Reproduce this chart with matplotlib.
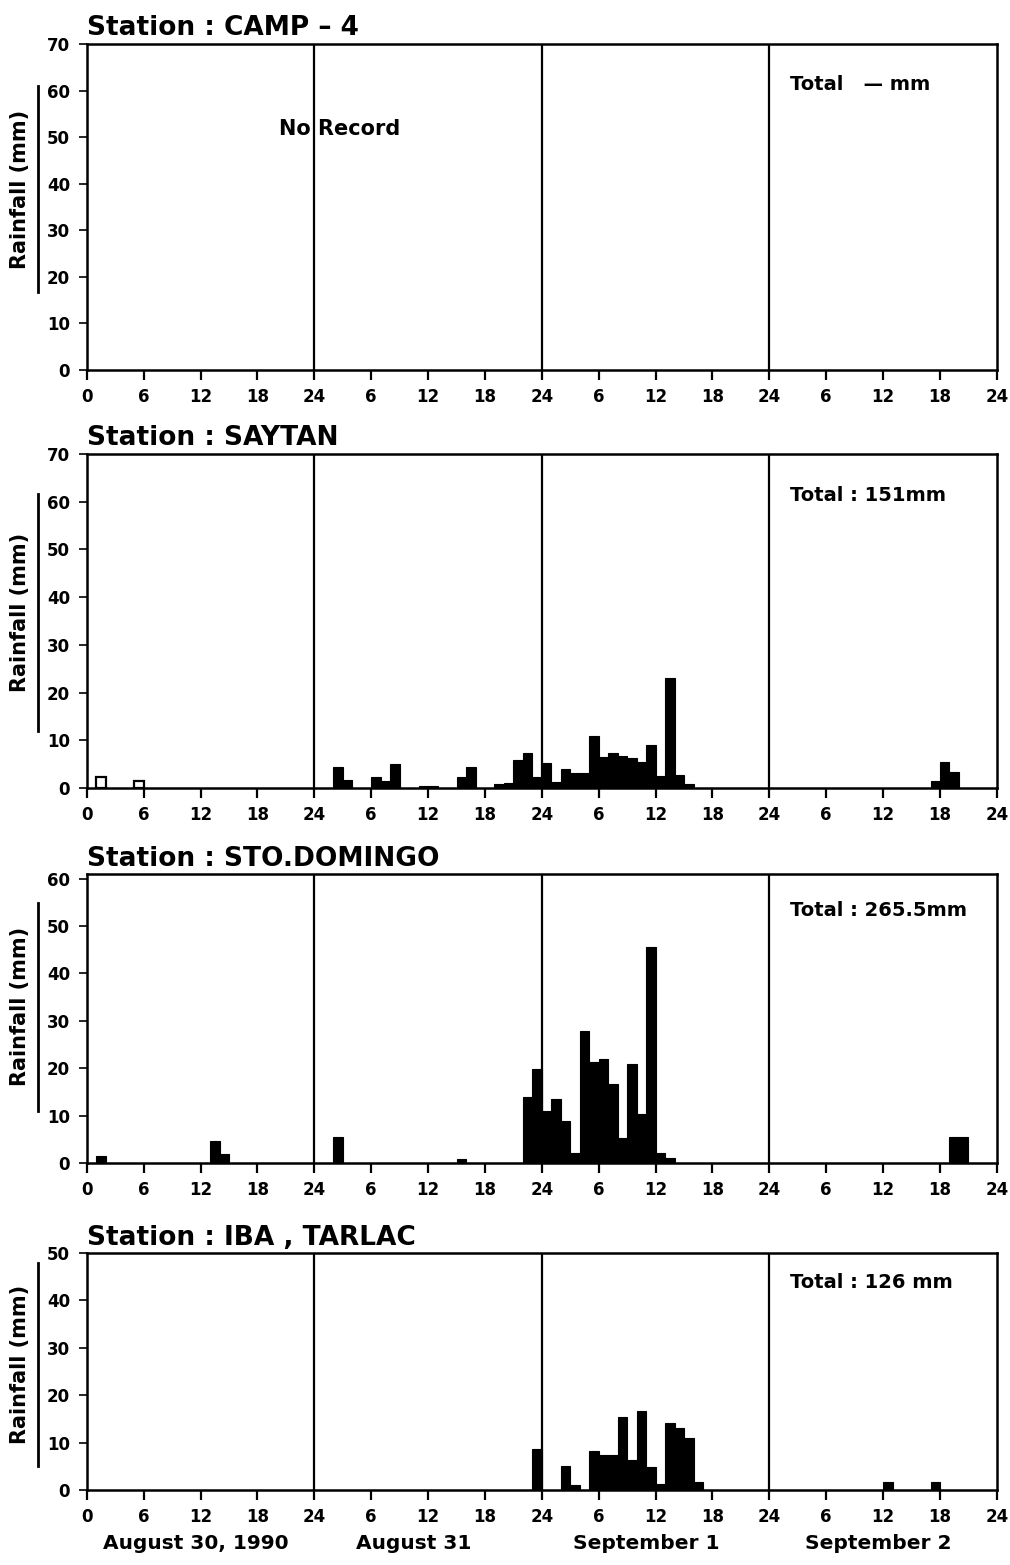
import matplotlib
matplotlib.use("Agg")
import matplotlib.pyplot as plt

plt.rcParams["font.family"] = ["DejaVu Sans"]
plt.rcParams["font.weight"] = "bold"

# hourly rainfall, hour counted from 0:00 of August 30, 1990 (4 days = 96 h)
stations = ["CAMP – 4", "SAYTAN", "STO.DOMINGO", "IBA , TARLAC"]
totals = ["Total   — mm", "Total : 151mm", "Total : 265.5mm", "Total : 126 mm"]
y_tops = [70, 70, 61, 50]

camp4_hours = []
camp4_rain = []

saytan_hours = [26, 27, 30, 31, 32, 35, 36, 39, 40, 43, 44, 45, 46, 47,
                48, 49, 50, 51, 52, 53, 54, 55, 56, 57, 58, 59, 60, 61, 62, 63,
                89, 90, 91]
saytan_rain = [4.3, 1.6, 2.3, 1.4, 5.0, 0.5, 0.5, 2.3, 4.3, 0.9, 1.0, 5.8, 7.3, 2.4,
               5.2, 1.2, 4.0, 3.2, 3.2, 10.8, 6.5, 7.3, 6.7, 6.3, 5.5, 9.0, 2.5, 23.0, 2.7, 0.9,
               1.4, 5.5, 3.4]
# two early readings drawn as open bars
saytan_open_hours = [1, 5]
saytan_open_rain = [2.2, 1.4]

stodomingo_hours = [1, 13, 14, 26, 39, 46, 47, 48, 49, 50, 51, 52, 53, 54,
                    55, 56, 57, 58, 59, 60, 61, 91, 92]
stodomingo_rain = [1.5, 4.6, 1.8, 5.4, 0.9, 14.0, 19.8, 10.9, 13.5, 8.8, 2.1, 27.8, 21.2, 21.9,
                   16.7, 5.2, 20.9, 10.4, 45.5, 2.0, 1.0, 5.4, 5.4]

iba_hours = [47, 50, 51, 53, 54, 55, 56, 57, 58, 59, 60, 61, 62, 63, 64, 84, 89]
iba_rain = [8.7, 5.1, 1.1, 8.3, 7.4, 7.4, 15.5, 6.3, 16.6, 4.9, 1.2, 14.2, 13.0, 11.0, 1.7,
            1.8, 1.6]

all_hours = [camp4_hours, saytan_hours, stodomingo_hours, iba_hours]
all_rain = [camp4_rain, saytan_rain, stodomingo_rain, iba_rain]

day_labels = ["August 30, 1990", "August 31", "September 1", "September 2"]
day_label_hours = [11.5, 34.5, 59, 83.5]

tick_hours = list(range(0, 97, 6))
tick_names = ["0"] + [str(h % 24 if h % 24 else 24) for h in tick_hours[1:]]

fig = plt.figure(figsize=(10.10, 15.65), dpi=100)

# axes boxes in figure fraction [left, bottom, width, height]
boxes = [[0.086, 0.7636, 0.901, 0.2083],
         [0.086, 0.4965, 0.901, 0.2134],
         [0.086, 0.2569, 0.901, 0.1847],
         [0.086, 0.0479, 0.901, 0.1514]]
label_spans = [(0.24, 0.87), (0.17, 0.88), (0.18, 0.90), (0.10, 0.96)]

axes = []
for i in range(4):
    ax = fig.add_axes(boxes[i])
    axes.append(ax)
    ax.bar(all_hours[i], all_rain[i], width=1.0, align="edge",
           color="black", edgecolor="black", linewidth=0.8)
    if i == 1:
        ax.bar(saytan_open_hours, saytan_open_rain, width=1.0, align="edge",
               color="white", edgecolor="black", linewidth=1.6)

    for d in [24, 48, 72]:
        ax.axvline(d, color="black", linewidth=1.6)

    ax.set_xlim(0, 96)
    ax.set_ylim(0, y_tops[i])
    ax.set_xticks(tick_hours)
    ax.set_xticklabels(tick_names, fontsize=12, fontweight="bold")
    yt = list(range(0, y_tops[i] + 1, 10))
    ax.set_yticks(yt)
    ax.set_yticklabels([str(v) for v in yt], fontsize=12, fontweight="bold")
    ax.tick_params(axis="x", direction="out", length=7, width=1.6, pad=6)
    ax.tick_params(axis="y", direction="out", length=6, width=1.2, pad=6)
    for s in ax.spines.values():
        s.set_linewidth(1.8)

    ax.text(0.0, 1.008, "Station : " + stations[i], transform=ax.transAxes,
            ha="left", va="bottom", fontsize=19, fontweight="bold")
    ax.text(0.773, 0.875, totals[i], transform=ax.transAxes,
            ha="left", va="center", fontsize=14, fontweight="bold")

    lo, hi = label_spans[i]
    ax.text(-0.073, (lo + hi) / 2, "Rainfall (mm)", transform=ax.transAxes,
            rotation=90, ha="center", va="center", fontsize=15, fontweight="bold")
    ax.plot([-0.054, -0.054], [lo, hi], transform=ax.transAxes,
            color="black", linewidth=2, clip_on=False)

axes[0].text(20.3, 0.74, "No Record", transform=axes[0].get_xaxis_transform(),
             ha="left", va="center", fontsize=15, fontweight="bold")

for h, name in zip(day_label_hours, day_labels):
    axes[3].text(h, -0.225, name, transform=axes[3].get_xaxis_transform(),
                 ha="center", va="center", fontsize=14.5, fontweight="bold")

fig.savefig("out.png", dpi=100, facecolor="white")
